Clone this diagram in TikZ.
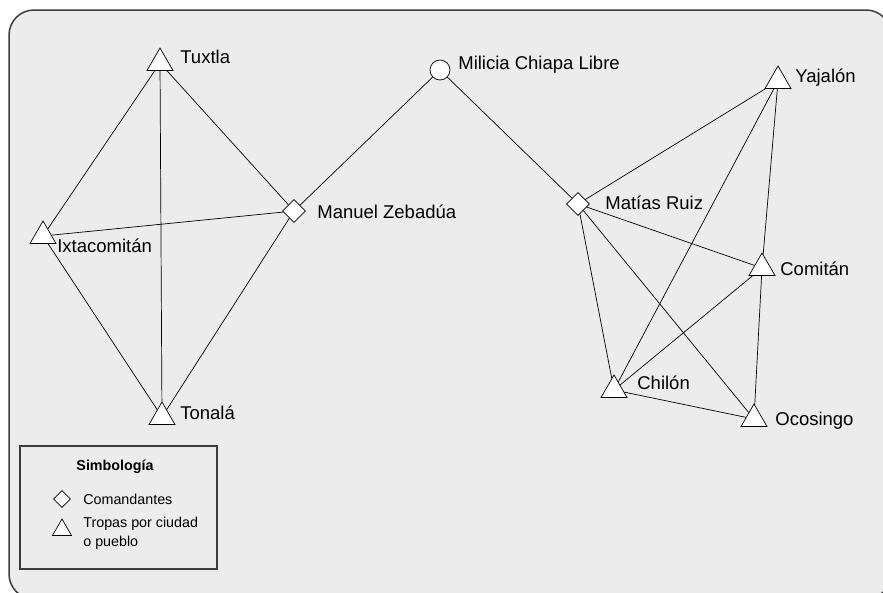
\documentclass[tikz,border=0pt]{standalone}
\usepackage{fontspec}
\setmainfont{Liberation Sans}
\usetikzlibrary{shapes.geometric}

\definecolor{fondo}{RGB}{236,236,236}
\definecolor{marco}{RGB}{60,60,60}

\begin{document}
\begin{tikzpicture}[x=1pt,y=-1pt,
					-,
					line width=0.7pt,
					tropa/.style={regular polygon,regular polygon sides=3,draw,fill=white,inner sep=0pt,minimum size=30pt},
					comandante/.style={diamond,draw,fill=white,inner sep=0pt,minimum size=23pt},
					milicia/.style={circle,draw,fill=white,inner sep=0pt,minimum size=20pt},
					nombre/.style={anchor=base west,inner sep=0pt,font=\fontsize{18.5}{21}\selectfont},
					leyenda/.style={anchor=base west,inner sep=0pt,font=\fontsize{14.3}{17}\selectfont}]

  \useasboundingbox (0,0) rectangle (883,592);
  \draw[marco,line width=1.5pt,fill=fondo,rounded corners=25pt] (9,10) rectangle (891,599);

  % simbolos
  \node[tropa] (tuxtla) at (160,63) {};
  \node[tropa] (ixtacomitan) at (43,236) {};
  \node[tropa] (tonala) at (162,417) {};
  \node[comandante] (zebadua) at (294,211) {};
  \node[milicia] (milicia) at (440,70) {};
  \node[comandante] (ruiz) at (578,204) {};
  \node[tropa] (yajalon) at (778,81) {};
  \node[tropa] (comitan) at (762,268) {};
  \node[tropa] (chilon) at (614,390) {};
  \node[tropa] (ocosingo) at (754,419) {};

  % nombres
  \node[nombre] (ntuxtla) at (180,63) {Tuxtla};
  \node[nombre] (nixtacomitan) at (57,252) {Ixtacomitán};
  \node[nombre] (ntonala) at (180,419) {Tonalá};
  \node[nombre] (nzebadua) at (317,218) {Manuel Zebadúa};
  \node[nombre] (nmilicia) at (458,69) {Milicia Chiapa Libre};
  \node[nombre] (nruiz) at (605,209) {Matías Ruiz};
  \node[nombre] (nyajalon) at (795,82) {Yajalón};
  \node[nombre] (ncomitan) at (780,275) {Comitán};
  \node[nombre] (nchilon) at (637,389) {Chilón};
  \node[nombre] (nocosingo) at (775,425) {Ocosingo};

  \path[every node/.style={}]
    (tuxtla) edge (ixtacomitan)
             edge (tonala)
             edge (zebadua)
    (ixtacomitan) edge (zebadua)
                  edge (tonala)
    (tonala) edge (zebadua)
    (zebadua) edge (milicia)
    (milicia) edge (ruiz)
    (ruiz) edge (yajalon)
           edge (comitan)
           edge (chilon)
           edge (ocosingo)
    (yajalon) edge (chilon)
              edge (comitan)
    (comitan) edge (chilon)
              edge (ocosingo)
    (chilon) edge (ocosingo);

  % simbologia
  \node[draw=marco,line width=1.2pt,fill=fondo,minimum width=197pt,minimum height=123pt] (caja) at (118.5,507.5) {};
  \node[anchor=base,inner sep=0pt,font=\fontsize{14.3}{17}\selectfont\bfseries] (titulo) at (115,470) {Simbología};
  \node[comandante,minimum size=17pt] (scomandante) at (62,499) {};
  \node[tropa,minimum size=22pt] (stropa) at (62,530) {};
  \node[leyenda] (tcomandante) at (83,504) {Comandantes};
  \node[leyenda] (ttropa) at (83,527) {Tropas por ciudad};
  \node[leyenda] (ttropa2) at (83,546) {o pueblo};
\end{tikzpicture}
\end{document}
